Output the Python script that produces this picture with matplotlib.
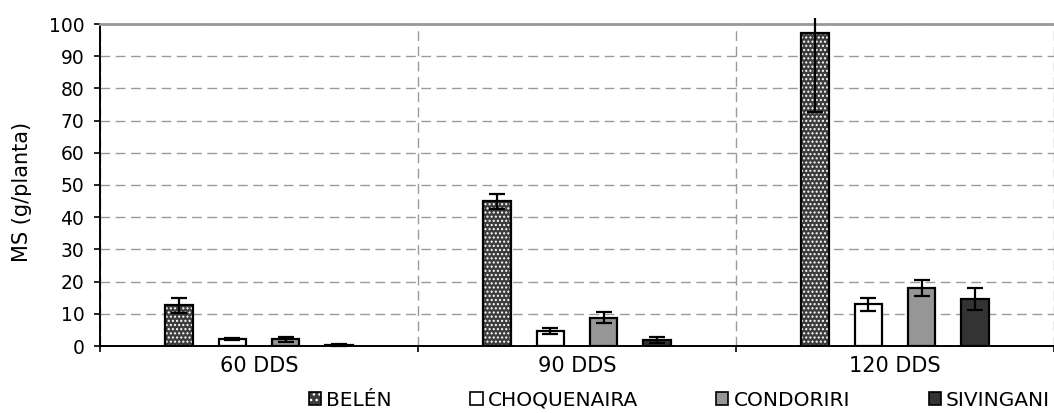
import numpy as np
import matplotlib
matplotlib.use("Agg")
import matplotlib.pyplot as plt
from matplotlib.patches import Patch, Rectangle
from matplotlib.legend_handler import HandlerTuple

plt.rcParams['font.family'] = ['DejaVu Sans']
plt.rcParams['hatch.linewidth'] = 1.0

# data
groups = ["60 DDS", "90 DDS", "120 DDS"]
varieties = ["BELÉN", "CHOQUENAIRA", "CONDORIRI", "SIVINGANI"]
belen = [12.7, 45.0, 97.2]
belen_err = [2.3, 2.3, 24.5]
choquenaira = [2.2, 4.6, 12.9]
choquenaira_err = [0.3, 0.9, 1.9]
condoriri = [2.1, 8.8, 18.0]
condoriri_err = [0.8, 1.7, 2.5]
sivingani = [0.3, 1.9, 14.6]
sivingani_err = [0.2, 1.0, 3.4]

values = [belen, choquenaira, condoriri, sivingani]
errors = [belen_err, choquenaira_err, condoriri_err, sivingani_err]
colors = ["#3c3c3c", "white", "#969696", "#333333"]
hatches = ["....", None, None, None]

fig = plt.figure(figsize=(10.54, 4.13), dpi=100)
ax = fig.add_axes([100/1054, 1-346/413, 1-100/1054, (346-24)/413])

x = np.arange(len(groups))
step = 0.168
width = 0.086
clip = Rectangle((0, -0.05), 1, 1.07, transform=ax.transAxes)

handles = []
for i, (vals, errs) in enumerate(zip(values, errors)):
    pos = x + (i - 1.5) * step
    if hatches[i]:
        ax.bar(pos, vals, width, color=colors[i], edgecolor="white",
               hatch=hatches[i], linewidth=0, zorder=3)
        ax.bar(pos, vals, width, color="none", edgecolor="black",
               linewidth=1.6, zorder=4)
        h = (Patch(facecolor=colors[i], edgecolor="white", hatch="...", linewidth=0),
             Patch(facecolor="none", edgecolor="black", linewidth=1.2))
    else:
        ax.bar(pos, vals, width, color=colors[i], edgecolor="black",
               linewidth=1.6, zorder=4)
        h = Patch(facecolor=colors[i], edgecolor="black", linewidth=1.2)
    handles.append(h)
    eb = ax.errorbar(pos, vals, yerr=errs, fmt="none", ecolor="black",
                     elinewidth=1.6, capsize=5.5, capthick=1.6, zorder=5)
    for art in eb.lines[1] + eb.lines[2]:
        art.set_clip_path(clip)

ax.set_ylim(0, 100)
ax.set_xlim(-0.5, (1054-100)/321 - 0.5)
ax.set_yticks(np.arange(0, 101, 10))
ax.set_xticks(x)
ax.set_xticklabels(groups)
ax.set_xticks(np.arange(-0.5, 3, 1), minor=True)

ax.tick_params(axis="y", direction="out", length=6/1.389, width=1.2,
               labelsize=13.5, pad=7)
ax.tick_params(axis="x", which="major", length=0, labelsize=15, pad=7)
ax.tick_params(axis="x", which="minor", direction="out", length=6/1.389, width=1.2)

ax.grid(axis="y", which="major", color="#9a9a9a", linestyle=(0, (7, 4)), linewidth=1.0, zorder=0)
ax.grid(axis="x", which="minor", color="#9a9a9a", linestyle=(0, (7, 4)), linewidth=1.0, zorder=0)
ax.set_axisbelow(True)

ax.spines["right"].set_visible(False)
ax.spines["top"].set_color("#999999")
ax.spines["top"].set_linewidth(2)
ax.spines["left"].set_linewidth(1.4)
ax.spines["bottom"].set_linewidth(1.4)

ax.set_ylabel("MS (g/planta)", fontsize=15)
ax.yaxis.set_label_coords(-0.071, 0.48)

fig.legend(handles, varieties, loc="center", bbox_to_anchor=(679.5/1054, 1-400/413),
           ncol=4, frameon=False, fontsize=14.5, handlelength=0.6, handleheight=0.6,
           handletextpad=0.25, columnspacing=3.9, borderpad=0,
           handler_map={tuple: HandlerTuple(ndivide=1, pad=0)})

fig.savefig("out.png", dpi=100)
